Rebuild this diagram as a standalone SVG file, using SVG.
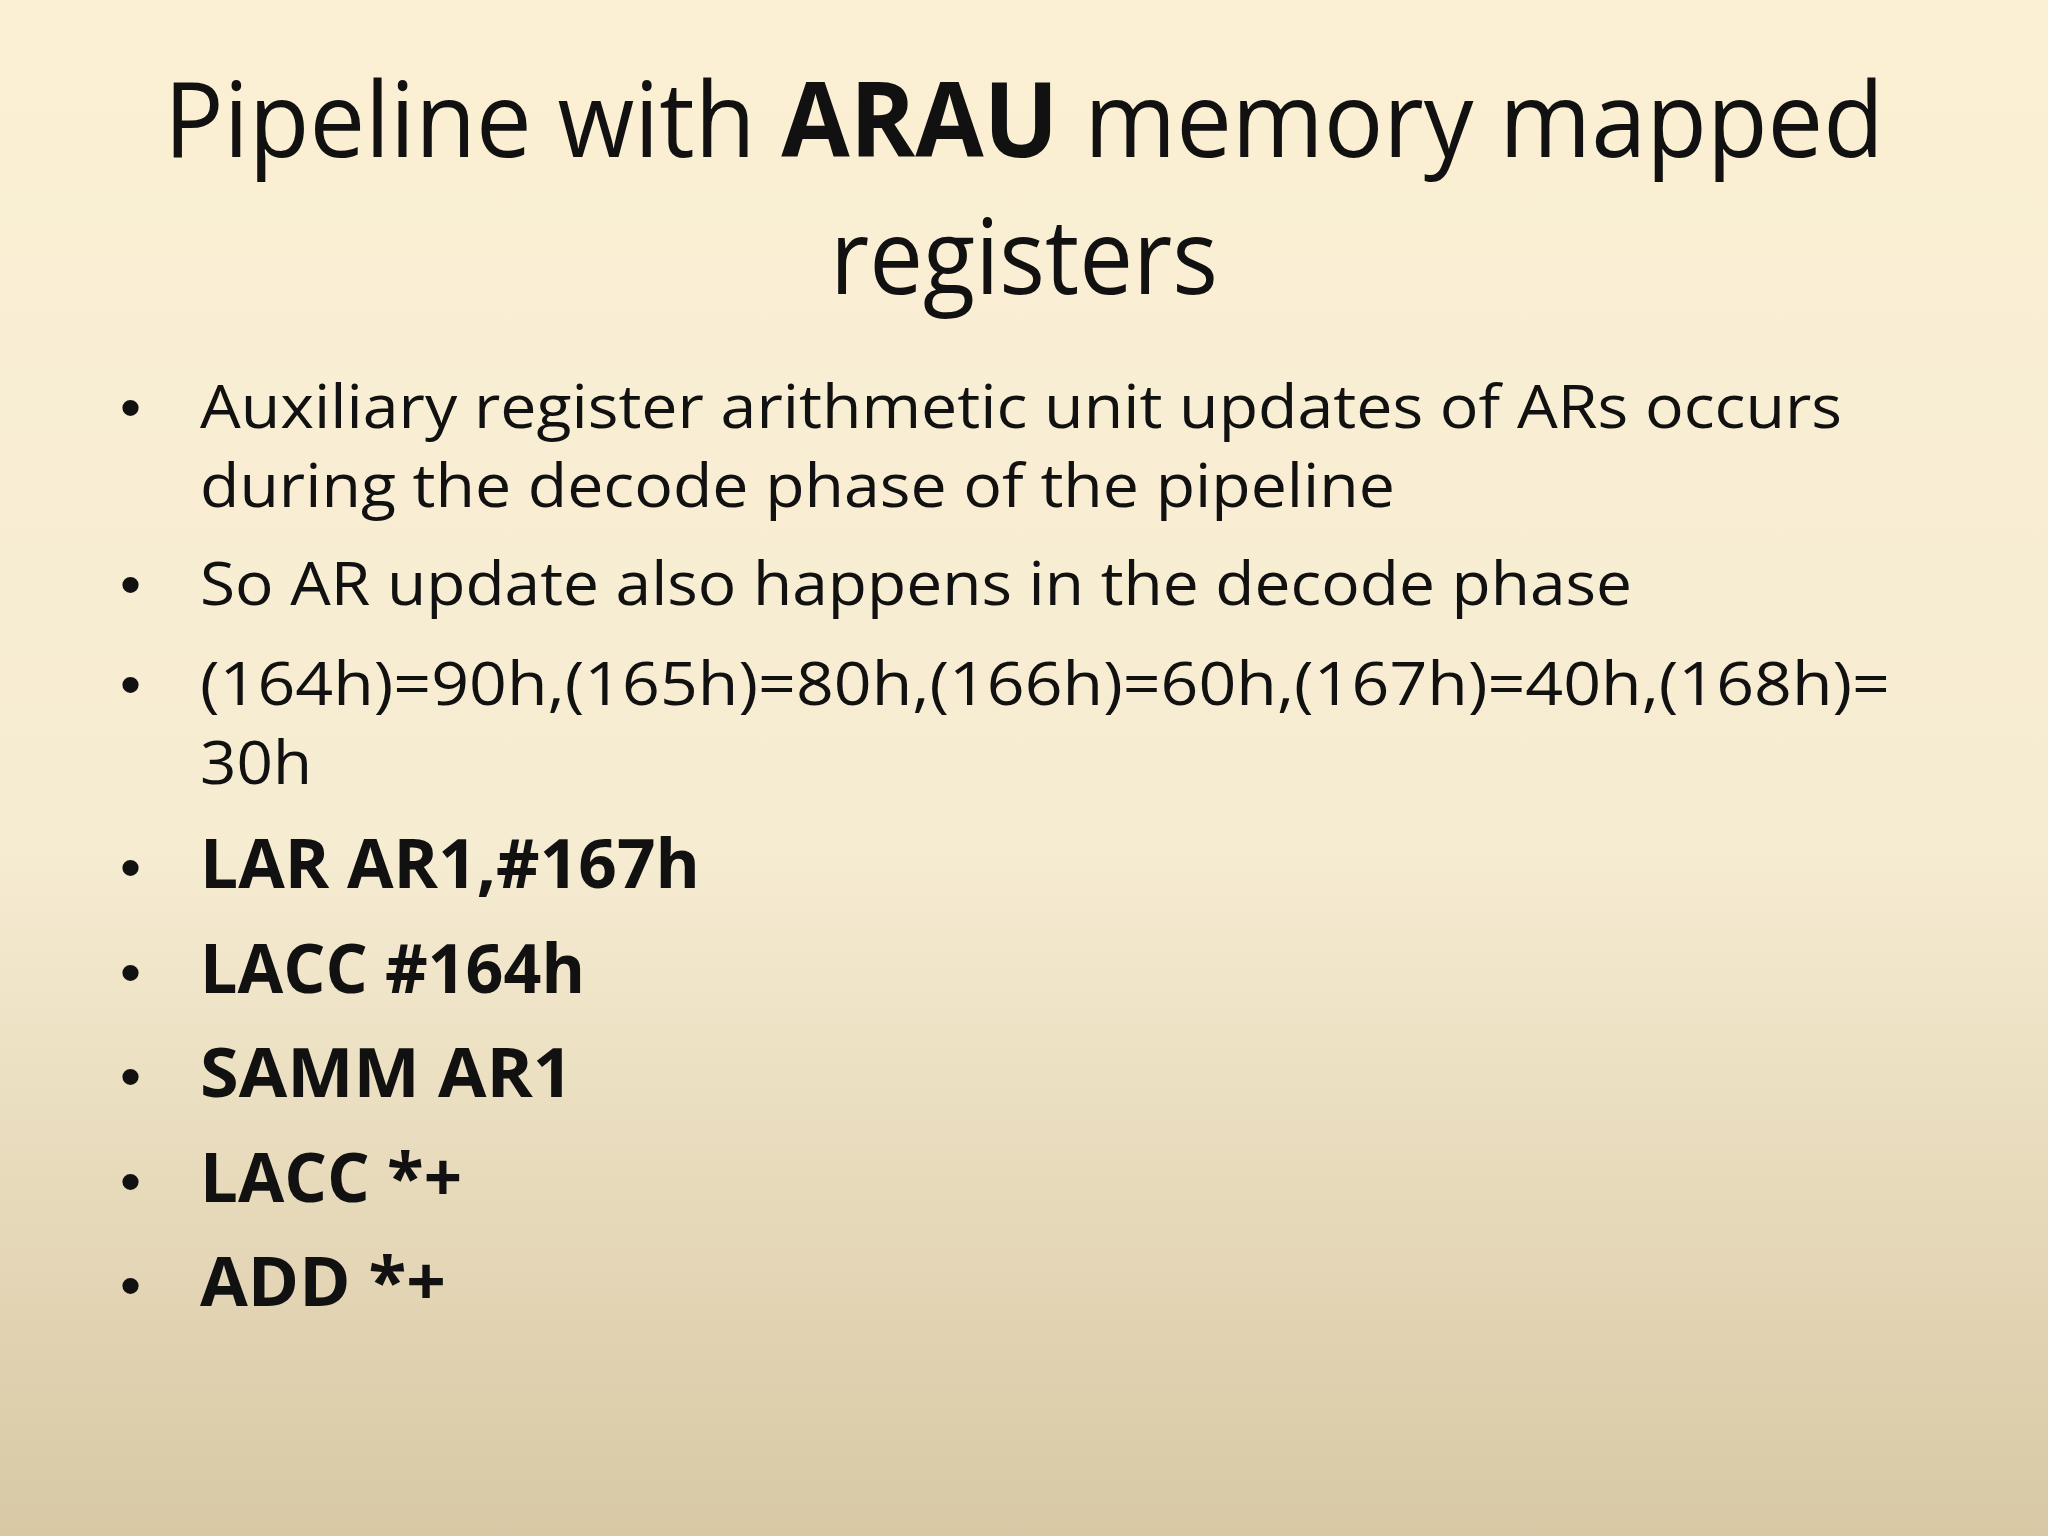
<svg xmlns="http://www.w3.org/2000/svg" width="2048" height="1536" viewBox="0 0 2048 1536">
<defs>
<linearGradient id="bg" x1="0" y1="0" x2="0" y2="1">
<stop offset="0" stop-color="#fbf0d4"/>
<stop offset="0.55" stop-color="#f6ecd2"/>
<stop offset="1" stop-color="#d8c8a4"/>
</linearGradient>
<style>
text{font-family:"Open Sans","Noto Sans",sans-serif;fill:#111}
.t{font-size:104px;text-anchor:middle}
.b{font-size:60px}
.d{font-size:60px;font-family:"Liberation Sans",sans-serif}
.k{font-size:68px;font-weight:bold}
</style>
</defs>
<rect width="2048" height="1536" fill="url(#bg)"/>
<g id="title">
<text class="t" x="1024" y="157" textLength="1720" lengthAdjust="spacingAndGlyphs">Pipeline with <tspan font-weight="bold">ARAU</tspan> memory mapped</text>
<text class="t" x="1024" y="294" textLength="388" lengthAdjust="spacingAndGlyphs">registers</text>
</g>
<g id="bullets">
<text class="d" x="120" y="428">•</text>
<text class="b" x="200" y="428" textLength="1642" lengthAdjust="spacingAndGlyphs">Auxiliary register arithmetic unit updates of ARs occurs</text>
<text class="b" x="200" y="507" textLength="1195" lengthAdjust="spacingAndGlyphs">during the decode phase of the pipeline</text>
<text class="d" x="120" y="605">•</text>
<text class="b" x="200" y="605" textLength="1432" lengthAdjust="spacingAndGlyphs">So AR update also happens in the decode phase</text>
<text class="d" x="120" y="705">•</text>
<text class="b" x="200" y="705" textLength="1690" lengthAdjust="spacingAndGlyphs">(164h)=90h,(165h)=80h,(166h)=60h,(167h)=40h,(168h)=</text>
<text class="b" x="200" y="784" textLength="112" lengthAdjust="spacingAndGlyphs">30h</text>
<text class="d" x="120" y="888">•</text>
<text class="k" x="200" y="888" textLength="500" lengthAdjust="spacingAndGlyphs">LAR AR1,#167h</text>
<text class="d" x="120" y="993">•</text>
<text class="k" x="200" y="993" textLength="385" lengthAdjust="spacingAndGlyphs">LACC #164h</text>
<text class="d" x="120" y="1097">•</text>
<text class="k" x="200" y="1097" textLength="373" lengthAdjust="spacingAndGlyphs">SAMM AR1</text>
<text class="d" x="120" y="1202">•</text>
<text class="k" x="200" y="1202" textLength="262" lengthAdjust="spacingAndGlyphs">LACC *+</text>
<text class="d" x="120" y="1306">•</text>
<text class="k" x="200" y="1306" textLength="246" lengthAdjust="spacingAndGlyphs">ADD *+</text>
</g>
</svg>
